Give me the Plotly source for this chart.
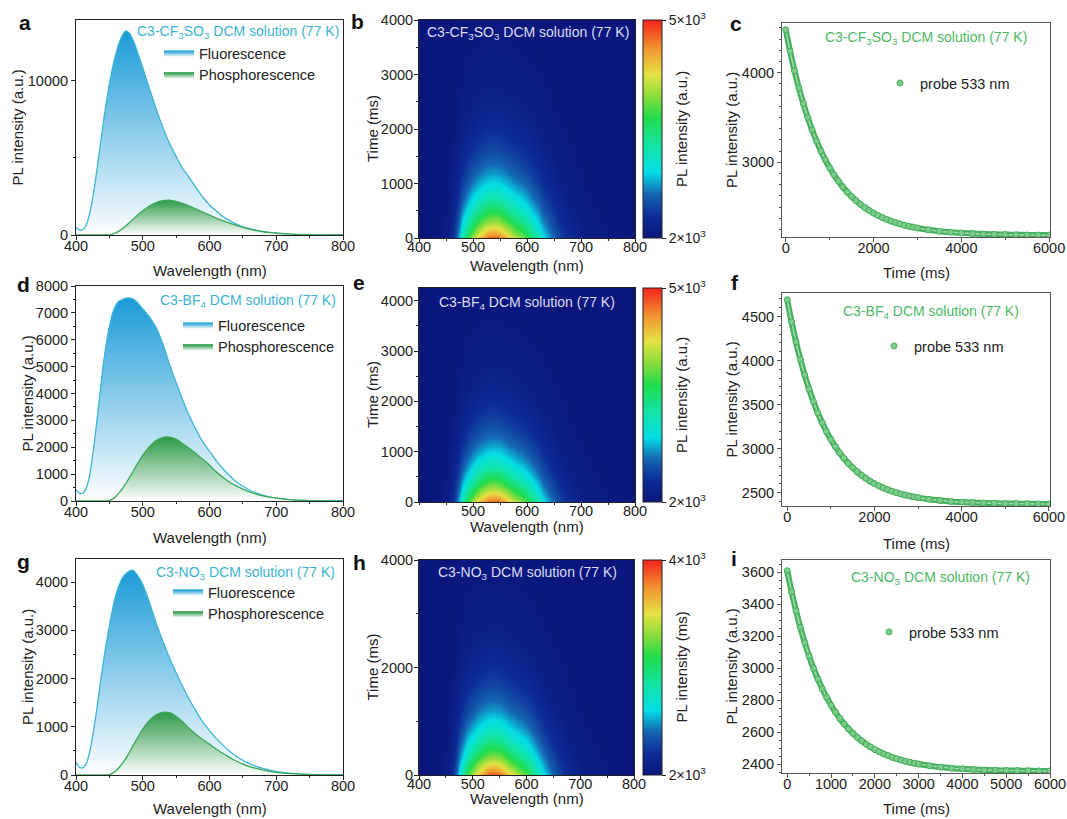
import plotly.graph_objects as go

W, H = 1067, 819
FONT = "Arial, 'Liberation Sans', Helvetica, sans-serif"

# ------------------------------------------------------------------ data
wavelength = [400, 405, 410, 415, 420, 425, 430, 435, 440, 445, 450, 455, 460, 465, 470, 475,
              480, 485, 490, 495, 500, 510, 520, 530, 540, 550, 560, 570, 580, 590, 600, 610,
              620, 630, 640, 650, 660, 670, 680, 690, 700, 720, 740, 760, 780, 800]

fluo_cf3so3 = [480, 330, 340, 600, 1300, 2400, 3800, 5400, 7000, 8500, 9800, 10900, 11800, 12500, 13000, 13250,
               13100, 12700, 12150, 11500, 10850, 9500, 8200, 7000, 5950, 5100, 4300, 3700, 3050, 2450, 1950, 1550,
               1200, 930, 700, 530, 410, 310, 230, 170, 125, 60, 28, 12, 5, 2]
phos_cf3so3 = [0, 0, 0, 0, 0, 0, 0, 0, 0, 0, 15, 60, 150, 270, 420, 600,
               800, 1000, 1200, 1390, 1570, 1880, 2100, 2230, 2265, 2180, 2040, 1870, 1680, 1480, 1290, 1100,
               930, 770, 630, 490, 375, 285, 210, 155, 112, 52, 24, 10, 4, 0]

fluo_bf4 = [420, 290, 290, 450, 900, 1700, 2700, 3800, 4900, 5800, 6500, 7000, 7300, 7450, 7500, 7550,
            7560, 7520, 7430, 7300, 7150, 6850, 6450, 5850, 5100, 4400, 3750, 3150, 2650, 2200, 1850, 1500,
            1200, 940, 720, 550, 410, 300, 215, 150, 105, 50, 22, 10, 4, 1]
phos_bf4 = [0, 0, 0, 0, 0, 0, 0, 0, 0, 0, 20, 80, 180, 320, 480, 670,
            870, 1080, 1300, 1500, 1700, 2020, 2250, 2360, 2380, 2300, 2130, 1950, 1760, 1550, 1330, 1090,
            880, 700, 560, 440, 340, 260, 195, 145, 105, 48, 21, 9, 3, 0]

fluo_no3 = [270, 160, 150, 220, 450, 800, 1250, 1750, 2250, 2700, 3100, 3450, 3750, 3950, 4100, 4180,
            4230, 4250, 4180, 4080, 3950, 3580, 3150, 2780, 2430, 2120, 1830, 1560, 1320, 1100, 920, 760,
            620, 495, 390, 305, 235, 180, 135, 100, 72, 38, 18, 8, 3, 1]
phos_no3 = [0, 0, 0, 0, 0, 0, 0, 0, 0, 0, 10, 40, 90, 160, 250, 350,
            470, 600, 720, 840, 950, 1130, 1250, 1300, 1295, 1220, 1100, 960, 840, 735, 640, 540,
            450, 365, 290, 225, 175, 135, 100, 75, 55, 28, 13, 6, 2, 0]

decay_time = [0, 100, 200, 300, 400, 500, 600, 700, 800, 900, 1000, 1100, 1200, 1300, 1400, 1500,
              1600, 1700, 1800, 1900, 2000, 2100, 2200, 2300, 2400, 2500, 2600, 2700, 2800, 2900, 3000,
              3250, 3500, 3750, 4000, 4250, 4500, 4750, 5000, 5250, 5500, 5750, 6000]
decay_cf3so3 = [4480, 4239, 4023, 3829, 3657, 3502, 3363, 3239, 3128, 3029, 2940, 2861, 2790, 2726, 2669, 2619,
                2573, 2532, 2496, 2463, 2434, 2408, 2384, 2363, 2345, 2328, 2313, 2299, 2287, 2277, 2267,
                2247, 2232, 2221, 2212, 2205, 2200, 2197, 2194, 2192, 2190, 2189, 2188]
decay_bf4 = [4690, 4438, 4213, 4013, 3835, 3676, 3534, 3407, 3295, 3194, 3105, 3025, 2954, 2891, 2834, 2784,
             2739, 2699, 2663, 2631, 2603, 2578, 2555, 2535, 2517, 2501, 2487, 2474, 2463, 2453, 2444,
             2425, 2412, 2401, 2393, 2388, 2383, 2380, 2377, 2376, 2374, 2373, 2372]
decay_no3 = [3610, 3478, 3360, 3254, 3160, 3075, 2999, 2932, 2871, 2817, 2768, 2725, 2686, 2651, 2620, 2592,
             2567, 2545, 2525, 2507, 2491, 2477, 2464, 2453, 2442, 2433, 2425, 2417, 2411, 2405, 2400,
             2389, 2381, 2374, 2370, 2366, 2363, 2361, 2360, 2359, 2358, 2357, 2357]

# time-resolved map: relative spectral profile of the delayed emission
map_wavelength = [400, 410, 420, 430, 440, 450, 455, 460, 465, 470, 475, 480, 490, 500, 510, 520, 530,
                  540, 550, 560, 570, 580, 590, 600, 610, 620, 630, 640, 650, 660, 670, 680, 690, 700,
                  720, 740, 760, 780, 800]
map_profile = [0, 0, 0, 0, 0.01, 0.03, 0.05, 0.08, 0.14, 0.23, 0.33, 0.43, 0.60, 0.73, 0.84, 0.93, 0.99,
               1.0, 0.97, 0.90, 0.82, 0.75, 0.69, 0.62, 0.53, 0.44, 0.34, 0.27, 0.21, 0.16, 0.12, 0.09, 0.07,
               0.05, 0.03, 0.02, 0.01, 0.005, 0]
map_cbar_min = [2000, 2000, 2000]
map_cbar_max = [5000, 5000, 4000]
map_peak = [4800, 4800, 3900]

titles = ["C3-CF<sub>3</sub>SO<sub>3</sub> DCM solution (77 K)",
          "C3-BF<sub>4</sub> DCM solution (77 K)",
          "C3-NO<sub>3</sub> DCM solution (77 K)"]

# ------------------------------------------------------------------ styles
BLUE_LINE = "#3db5d5"
BLUE_TOP = "#1a9bd7"
GREEN_LINE = "#3ba857"
GREEN_TOP = "#2e9a4a"
DECAY_GREEN = "#45b05c"
DECAY_LIGHT = "#9ed9aa"
TITLE_BLUE = "#3ab3d2"
TITLE_GREEN = "#4cb865"
AX = "#222222"

JET = [[0.0, "#0a167c"], [0.10, "#0c2c95"], [0.20, "#1564b2"], [0.30, "#05dde6"],
       [0.42, "#12e4a6"], [0.55, "#22dc4c"], [0.65, "#8bdd3c"], [0.75, "#e5e344"],
       [0.87, "#f29431"], [1.0, "#f4231a"]]

# panel boxes in pixels: x0, x1, y0(top), y1(bottom)
boxes = {
    1: (76, 343, 20, 235), 2: (419, 635, 20, 238), 3: (782, 1050, 23, 237),
    4: (76, 343, 286, 501), 5: (419, 635, 288, 502), 6: (782, 1050, 293, 506),
    7: (76, 343, 559, 775), 8: (419, 634, 560, 775), 9: (782, 1050, 560, 773),
}


def fx(x):
    return x / W


def fy(y):
    return 1 - y / H


fig = go.Figure()

spectra = [(1, fluo_cf3so3, phos_cf3so3, "legend"),
           (4, fluo_bf4, phos_bf4, "legend3"),
           (7, fluo_no3, phos_no3, "legend5")]
for k, fl, ph, lg in spectra:
    xa = "x" if k == 1 else f"x{k}"
    ya = "y" if k == 1 else f"y{k}"
    fig.add_trace(go.Scatter(
        x=wavelength, y=fl, xaxis=xa, yaxis=ya, mode="lines", name="Fluorescence",
        line=dict(color=BLUE_LINE, width=1.3, shape="spline", smoothing=0.6),
        fill="tozeroy",
        fillgradient=dict(type="vertical", colorscale=[[0, "rgba(255,255,255,1)"], [1, BLUE_TOP]]),
        legend=lg))
    fig.add_trace(go.Scatter(
        x=wavelength, y=ph, xaxis=xa, yaxis=ya, mode="lines", name="Phosphorescence",
        line=dict(color=GREEN_LINE, width=1.3, shape="spline", smoothing=0.6),
        fill="tozeroy",
        fillgradient=dict(type="vertical", colorscale=[[0, "rgba(255,255,255,1)"], [1, GREEN_TOP]]),
        legend=lg))

# time-resolved maps
maps = [(2, decay_cf3so3, 0), (5, decay_bf4, 1), (8, decay_no3, 2)]
for k, dec, i in maps:
    d0 = dec[0] - dec[-1]
    zmin, zmax = map_cbar_min[i], map_cbar_max[i]
    exc = map_peak[i] - zmin
    z = [[zmin + exc * p * (v - dec[-1]) / d0 for p in map_profile] for v in dec]
    x0, x1, y0, y1 = boxes[k]
    fig.add_trace(go.Heatmap(
        x=map_wavelength, y=decay_time, z=z, xaxis=f"x{k}", yaxis=f"y{k}",
        zmin=zmin, zmax=zmax, colorscale=JET, zsmooth="best",
        colorbar=dict(x=fx(643), xanchor="left", y=fy(y1), yanchor="bottom",
                      len=(y1 - y0) / H, lenmode="fraction", thickness=19, thicknessmode="pixels",
                      xpad=0, ypad=0, outlinewidth=1, outlinecolor=AX,
                      tickvals=[zmin, zmax],
                      ticktext=[f"{zmin // 1000}×10<sup>3</sup>", f"{zmax // 1000}×10<sup>3</sup>"],
                      ticks="outside", ticklen=4, tickcolor=AX,
                      tickfont=dict(size=14, color=AX, family=FONT))))

# decay curves
decays = [(3, decay_cf3so3, "legend2"), (6, decay_bf4, "legend4"), (9, decay_no3, "legend6")]
for k, dec, lg in decays:
    fig.add_trace(go.Scatter(x=decay_time, y=dec, xaxis=f"x{k}", yaxis=f"y{k}", mode="lines",
                             line=dict(color=DECAY_GREEN, width=6, shape="spline"), showlegend=False))
    fig.add_trace(go.Scatter(x=decay_time, y=dec, xaxis=f"x{k}", yaxis=f"y{k}", mode="lines",
                             line=dict(color=DECAY_LIGHT, width=1.6, shape="spline"), showlegend=False))
    fig.add_trace(go.Scatter(x=decay_time, y=dec, xaxis=f"x{k}", yaxis=f"y{k}", mode="markers",
                             name="probe 533 nm", legend=lg,
                             marker=dict(size=6, color="#7ccc8c", line=dict(color=DECAY_GREEN, width=1))))


def axis(col, **kw):
    base = dict(showline=True, linecolor=col, linewidth=1, mirror=True, ticks="outside", ticklen=4,
                tickwidth=1, tickcolor=col, showgrid=False, zeroline=False, automargin=False,
                tickfont=dict(size=14.5, color=AX, family=FONT))
    base.update(kw)
    return base


layout_axes = {}
ranges = {
    1: dict(x=dict(range=[400, 800], dtick=100, minor=50), y=dict(range=[0, 13950], tickvals=[0, 10000], minor=5000)),
    2: dict(x=dict(range=[400, 800], dtick=100, minor=50), y=dict(range=[0, 4000], dtick=1000, minor=500)),
    3: dict(x=dict(range=[-85, 6020], dtick=2000, minor=1000), y=dict(range=[2167, 4555], tickvals=[3000, 4000], minor=125)),
    4: dict(x=dict(range=[400, 800], dtick=100, minor=50), y=dict(range=[0, 8000], dtick=1000, minor=500)),
    5: dict(x=dict(range=[400, 800], tickvals=[500, 600, 700, 800], minor=50), y=dict(range=[0, 4253], dtick=1000, minor=500)),
    6: dict(x=dict(range=[-120, 6025], dtick=2000, minor=1000), y=dict(range=[2349, 4766], dtick=500, minor=100)),
    7: dict(x=dict(range=[400, 800], dtick=100, minor=50), y=dict(range=[0, 4480], dtick=1000, minor=500)),
    8: dict(x=dict(range=[400, 800], dtick=100, minor=50), y=dict(range=[0, 4000], dtick=2000, minor=1000)),
    9: dict(x=dict(range=[-120, 6000], dtick=1000, minor=500), y=dict(range=[2344, 3677], dtick=200, minor=50)),
}
for k, r in ranges.items():
    x0, x1, y0, y1 = boxes[k]
    col = "#555555" if k in (3, 6, 9) else AX
    xs = dict(r["x"])
    ys = dict(r["y"])
    xm = xs.pop("minor")
    ym = ys.pop("minor")
    xname = "xaxis" if k == 1 else f"xaxis{k}"
    yname = "yaxis" if k == 1 else f"yaxis{k}"
    xa = "x" if k == 1 else f"x{k}"
    ya = "y" if k == 1 else f"y{k}"
    is_map = k in (2, 5, 8)
    layout_axes[xname] = axis(col, domain=[fx(x0), fx(x1)], anchor=ya,
                              ticklabelstandoff=-8 if is_map else -6,
                              tickformat="d",
                              minor=dict(ticks="outside", ticklen=2, dtick=xm, tick0=0, tickcolor=col),
                              **xs)
    layout_axes[yname] = axis(col, domain=[fy(y1), fy(y0)], anchor=xa, tickformat="d",
                              ticklabelstandoff=-2 if is_map else 0,
                              minor=dict(ticks="outside", ticklen=2, dtick=ym, tick0=0, tickcolor=col),
                              **ys)

fig.update_layout(**layout_axes)

ann = []


def text(x, y, t, size=15, color=AX, angle=0, xanchor="center", bold=False):
    if bold:
        t = f"<b>{t}</b>"
    ann.append(dict(x=fx(x), y=fy(y), xref="paper", yref="paper", text=t, showarrow=False,
                    textangle=angle, xanchor=xanchor, yanchor="middle",
                    font=dict(size=size, color=color, family=FONT)))


# panel letters
for L, x, y in [("a", 25, 22), ("b", 357, 21), ("c", 736, 23), ("d", 23, 284), ("e", 359, 282),
                ("f", 735, 282), ("g", 23, 561), ("h", 359, 562), ("i", 734, 558)]:
    text(x, y, L, size=21, color="#111111", bold=True)

# axis titles
for k in (1, 4, 7):
    x0, x1, y0, y1 = boxes[k]
    text((x0 + x1) / 2, {1: 271, 4: 537, 7: 808}[k], "Wavelength (nm)")
    text({1: 17, 4: 27, 7: 27}[k], (y0 + y1) / 2, "PL intensity (a.u.)", angle=-90)
for k in (2, 5, 8):
    x0, x1, y0, y1 = boxes[k]
    text((x0 + x1) / 2, {2: 266, 5: 526, 8: 798}[k], "Wavelength (nm)")
    text(372, (y0 + y1) / 2, "Time (ms)", angle=-90)
    text(681, (y0 + y1) / 2, "PL intensity (ms)" if k == 8 else "PL intensity (a.u.)", angle=-90)
for k in (3, 6, 9):
    x0, x1, y0, y1 = boxes[k]
    text((x0 + x1) / 2, {3: 273, 6: 543, 9: 808}[k], "Time (ms)")
    text(731, (y0 + y1) / 2, "PL intensity (a.u.)", angle=-90)

# sample titles
text(341, 32, titles[0], size=14, color=TITLE_BLUE, xanchor="right")
text(338, 301, titles[1], size=14, color=TITLE_BLUE, xanchor="right")
text(337, 573, titles[2], size=14, color=TITLE_BLUE, xanchor="right")
text(528, 33, titles[0], size=14, color="#dcdcf4")
text(527, 303, titles[1], size=14, color="#dcdcf4")
text(527, 573, titles[2], size=14, color="#dcdcf4")
text(926, 38, titles[0], size=14, color=TITLE_GREEN)
text(931, 312, titles[1], size=14, color=TITLE_GREEN)
text(940, 578, titles[2], size=14, color=TITLE_GREEN)

legend_style = dict(bgcolor="rgba(0,0,0,0)", borderwidth=0, xanchor="left", yanchor="top",
                    font=dict(size=14.5, color=AX, family=FONT), tracegroupgap=0, itemwidth=30)
fig.update_layout(
    legend=dict(x=fx(159), y=fy(37), **legend_style),
    legend3=dict(x=fx(178), y=fy(309), **legend_style),
    legend5=dict(x=fx(168), y=fy(576), **legend_style),
    legend2=dict(x=fx(880), y=fy(67), **legend_style),
    legend4=dict(x=fx(874), y=fy(330), **legend_style),
    legend6=dict(x=fx(869), y=fy(616), **legend_style),
)

fig.update_layout(width=W, height=H, autosize=False,
                  margin=dict(l=0, r=0, t=0, b=0, autoexpand=False),
                  paper_bgcolor="white", plot_bgcolor="white", annotations=ann,
                  font=dict(family=FONT, color=AX))

fig.write_html("out.html")
